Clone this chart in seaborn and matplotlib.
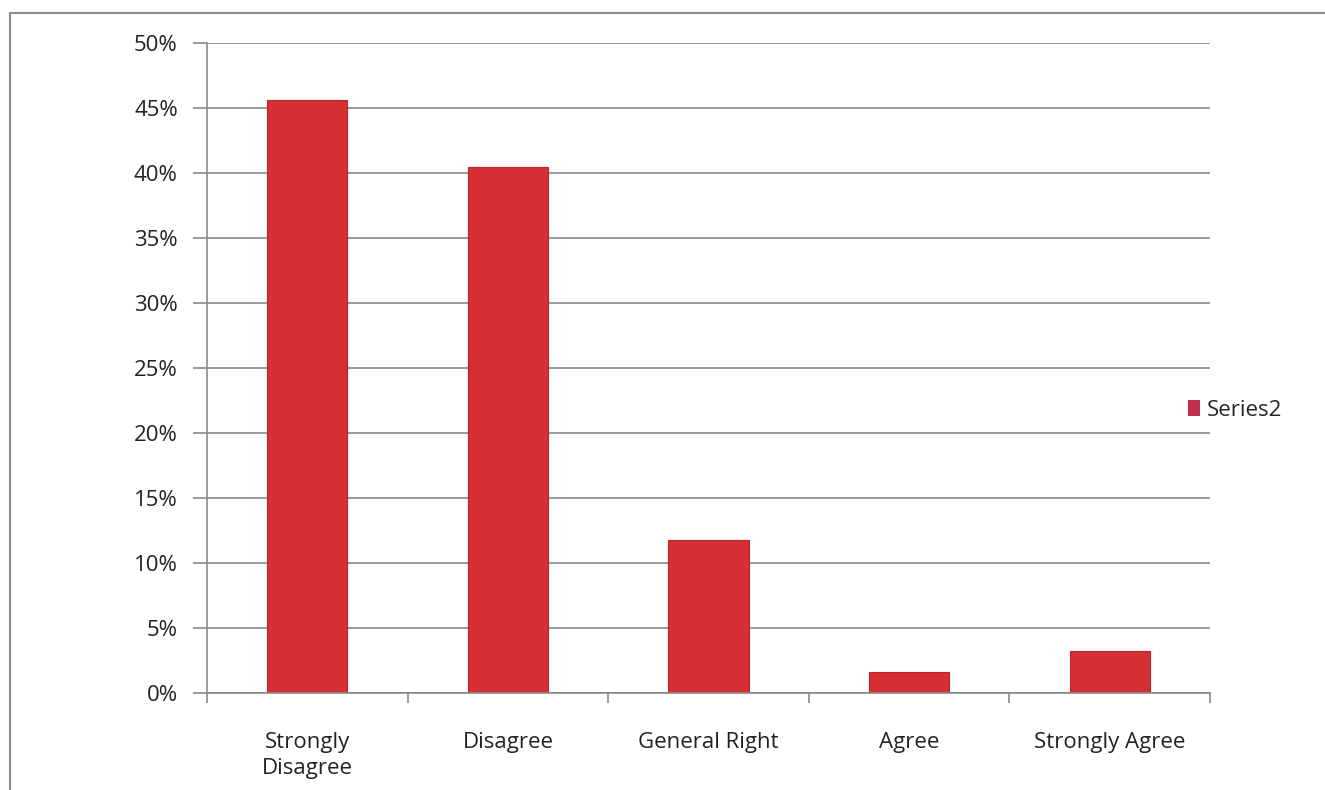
import matplotlib
matplotlib.use("Agg")
import matplotlib.pyplot as plt
import seaborn as sns
import pandas as pd
import numpy as np
from matplotlib.patches import Rectangle
from matplotlib.ticker import FixedLocator, PercentFormatter

categories = ["Strongly\nDisagree", "Disagree", "General Right", "Agree", "Strongly Agree"]
values = [45.6, 40.5, 11.8, 1.6, 3.2]
series_name = "Series2"
yticks = [0, 5, 10, 15, 20, 25, 30, 35, 40, 45, 50]

sns.set_theme(style="white")
plt.rcParams['font.family'] = ['Open Sans', 'DejaVu Sans']

fig = plt.figure(figsize=(13.25, 7.9), dpi=100)
ax = fig.add_axes([207/1325, 97/790, (1210-207)/1325, (693-43)/790])

df = pd.DataFrame({"cat": categories, "val": values, "series": series_name})
sns.barplot(data=df, x="cat", y="val", hue="series", palette=["#D63035"],
            saturation=1, width=0.4, ax=ax, edgecolor="#B8262A", linewidth=0.8,
            legend=False)

ax.set_ylim(0, 50)
ax.set_xlim(-0.5, len(categories) - 0.5)
ax.set_yticks(yticks)
ax.yaxis.set_major_formatter(PercentFormatter(decimals=0))
ax.yaxis.grid(True, color="#8a8a8a", linewidth=1.2)
ax.set_axisbelow(True)
ax.set_xlabel("")
ax.set_ylabel("")

for s in ["top", "right"]:
    ax.spines[s].set_visible(False)
for s in ["left", "bottom"]:
    ax.spines[s].set_color("#8a8a8a")
    ax.spines[s].set_linewidth(1.2)

ax.tick_params(axis="y", which="major", left=True, length=10, width=1.2,
               color="#8a8a8a", labelsize=16, labelcolor="#222222", pad=11)
ax.tick_params(axis="x", which="major", bottom=False, labelsize=16,
               labelcolor="#222222", pad=22)
for lbl in ax.get_xticklabels():
    lbl.set_linespacing(1.35)
ax.xaxis.set_minor_locator(FixedLocator(np.arange(-0.5, len(categories), 1.0)))
ax.tick_params(axis="x", which="minor", bottom=True, length=7, width=1.2,
               color="#8a8a8a", direction="out")

# legend
h = Rectangle((0, 0), 1, 1, facecolor="#C0304F", edgecolor="none")
ax.legend([h], [series_name], loc="center left", bbox_to_anchor=(0.967, 0.435),
          frameon=False, fontsize=16, handlelength=0.55, handleheight=0.7,
          handletextpad=0.3, borderpad=0)

# outer chart border
fig.patches.append(Rectangle((10/1325, -0.01), 1.0, 1 - 13/790 + 0.01,
                             transform=fig.transFigure, fill=False,
                             edgecolor="#8c8c8c", linewidth=1.5))

fig.savefig("out.png", dpi=100, facecolor="white")
